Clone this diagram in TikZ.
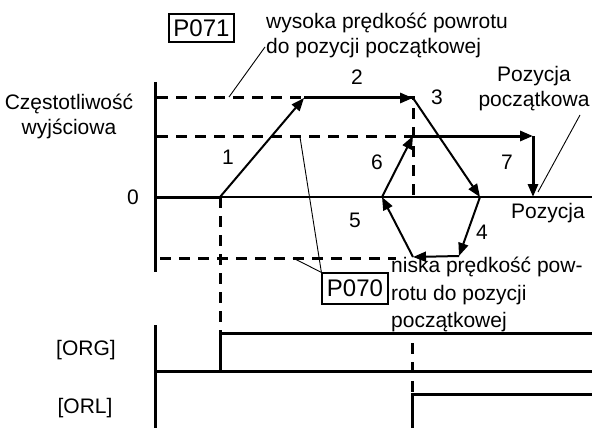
\documentclass[tikz,border=0pt]{standalone}
\usepackage{fontspec}
\setmainfont{Liberation Sans}
\usepackage{tikz}
\usetikzlibrary{arrows.meta}

\begin{document}
\begin{tikzpicture}[x=1pt,y=-1pt,>={Triangle[length=13pt,width=10pt]},
  txt/.style={inner sep=0pt,font=\fontsize{21}{25}\selectfont},
  parbox/.style={inner sep=0pt,font=\fontsize{24}{28}\selectfont,draw=black,line width=1.2pt},
  axis/.style={line width=3pt},
  dashline/.style={line width=3pt,dash pattern=on 11pt off 8pt},
  move/.style={->,line width=2pt},
  movebold/.style={->,line width=3pt},
  leader/.style={line width=0.9pt}]
\useasboundingbox (0,0) rectangle (592,428);
% punkty przebiegu
\coordinate (s0) at (220,197);
\coordinate (s1) at (304,98);
\coordinate (s2) at (413,98);
\coordinate (s3) at (480,197);
\coordinate (s4) at (459,256);
\coordinate (s5) at (413,257);
\coordinate (s6) at (382,197);
\coordinate (s7) at (413,136);
\coordinate (s8) at (533,136);
\coordinate (s9) at (533,197);
% osie
\draw[axis] (155,82) -- (155,272);
\draw[line width=1.8pt] (155,197) -- (592,197);
\draw[axis] (155,197) -- (s0);
\draw[dashline] (157,98) -- (s2) -- (413,197);
\draw[dashline] (157,136) -- (s7);
\draw[dashline] (160,258) -- (396,258);
\draw[dashline] (s0) -- (220,333);
\draw[dashline] (412,343) -- (412,392);
% etykiety
\node[txt,align=center] (freq) at (69,116) {Częstotliwość\\wyjściowa};
\node[txt] (zero) at (133,197) {0};
\node[parbox,minimum width=65pt,minimum height=28pt] (p071) at (201.5,28) {P071};
\node[txt,align=left,anchor=west] (high) at (266,35) {wysoka prędkość powrotu\\do pozycji początkowej};
\node[txt,align=center] (home) at (534,89) {Pozycja\\początkowa};
\node[txt] (pos) at (548,213) {Pozycja};
\node[parbox,minimum width=66pt,minimum height=31pt] (p070) at (355,288.5) {P070};
\node[txt,align=left,anchor=north west,font=\fontsize{21}{27.5}\selectfont] (low) at (391,257) {niska prędkość pow-\\rotu do pozycji\\początkowej};
\node[txt] (n1) at (228,157) {1};
\node[txt] (n2) at (357,77) {2};
\node[txt] (n3) at (437,97) {3};
\node[txt] (n4) at (482,232) {4};
\node[txt] (n5) at (355,220) {5};
\node[txt] (n6) at (377,162) {6};
\node[txt] (n7) at (507,162) {7};
\node[txt] (org) at (86,350) {[ORG]};
\node[txt] (orl) at (85,408) {[ORL]};
% przebieg
\draw[move] (s0) -- (s1);
\draw[movebold] (s1) -- (s2);
\draw[move] (s2) -- (s3);
\draw[move] (s3) -- (s4);
\draw[move] (s4) -- (s5);
\draw[move] (s5) -- (s6);
\draw[move] (s6) -- (s7);
\draw[movebold] (s7) -- (s8);
\draw[movebold] (s8) -- (s9);
% odnośniki
\coordinate (h1) at (229,97);
\coordinate (h2) at (265,47);
\draw[leader] (h1) -- (h2);
\coordinate (k1) at (580,115);
\coordinate (k2) at (538,192);
\draw[leader] (k1) -- (k2);
\coordinate (l1) at (300,137);
\coordinate (l2) at (293,258);
\draw[leader] (p070.north west) -- (l1);
\draw[leader] (p070.north west) -- (l2);
% sygnaly
\draw[axis] (155,325) -- (155,428);
\draw[axis] (155,371) -- (592,371);
\draw[axis] (220,371) -- (220,333) -- (592,333);
\draw[axis] (412,428) -- (412,394) -- (592,394);
\end{tikzpicture}
\end{document}
